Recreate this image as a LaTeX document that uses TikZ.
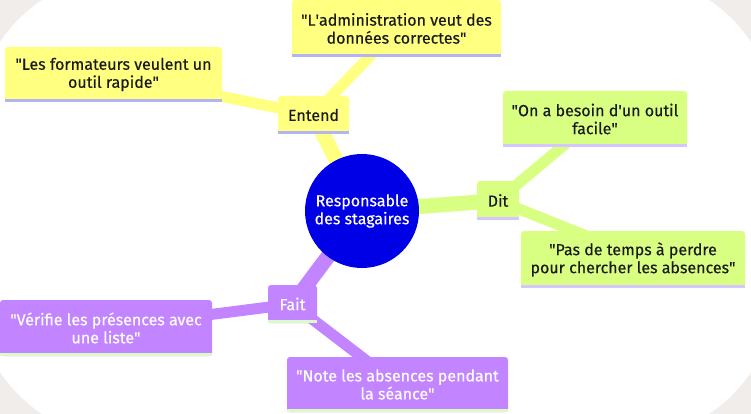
\documentclass[tikz,border=0pt]{standalone}
\usepackage{fontspec}
\setmainfont{Fira Sans}[FakeBold=0.35]
\usetikzlibrary{backgrounds}
\definecolor{bggray}{HTML}{F0EDEA}
\definecolor{myyellow}{HTML}{FFFF80}
\definecolor{mygreen}{HTML}{D9FF82}
\definecolor{mypurple}{HTML}{C285FF}
\definecolor{myblue}{HTML}{0000E6}
\definecolor{yline}{HTML}{B4B4F5}
\definecolor{gline}{HTML}{D5C6FF}
\definecolor{pline}{HTML}{DCFAC8}
\definecolor{txt}{HTML}{1A1A1A}
\tikzset{
  box/.style={rounded corners=3pt, inner sep=0pt, align=center, font=\fontsize{16}{18}\selectfont},
  ybox/.style={box, fill=myyellow, text=txt},
  gbox/.style={box, fill=mygreen, text=txt},
  pbox/.style={box, fill=mypurple, text=white},
  ul/.style={line width=3pt},
  mainline/.style={line width=15pt},
  subline/.style={line width=11pt},
}
\newcommand{\q}{\textquotedbl}
\newcommand{\ap}{\textquotesingle}
\newcommand{\underl}[2]{\draw[ul,#2] ([yshift=1.5pt]#1.south west) -- ([yshift=1.5pt]#1.south east);}
\begin{document}
\begin{tikzpicture}[x=1pt,y=-1pt]
\useasboundingbox (0,0) rectangle (751,414);
\begin{scope}[on background layer]
  \fill[bggray] (0,0) rectangle (751,414);
  \fill[white, rounded corners=150pt] (-25,-25) rectangle (776,439);
\end{scope}

\node[circle, fill=myblue, minimum size=114pt, inner sep=0pt, align=center, text=white,
      font=\fontsize{16}{18}\selectfont] (c) at (362,211) {Responsable\\des stagaires};

\node[ybox, minimum width=71pt, minimum height=38pt] (entend) at (313.5,115) {Entend};
\node[ybox, minimum width=217pt, minimum height=55pt] (b1) at (113.5,74.5) {\q Les formateurs veulent un\\outil rapide\q};
\node[ybox, minimum width=209pt, minimum height=57pt] (b2) at (396.5,28.5) {\q L\ap administration veut des\\données correctes\q};

\node[gbox, minimum width=42pt, minimum height=39pt] (dit) at (498,200.5) {Dit};
\node[gbox, minimum width=184pt, minimum height=56pt] (g1) at (595,119) {\q On a besoin d\ap un outil\\facile\q};
\node[gbox, minimum width=224pt, minimum height=57pt] (g2) at (633,259.5) {\q Pas de temps à perdre\\pour chercher les absences\q};

\node[pbox, minimum width=49pt, minimum height=38pt] (fait) at (292.5,304) {Fait};
\node[pbox, minimum width=212pt, minimum height=56pt] (p1) at (106,328) {\q Vérifie les présences avec\\une liste\q};
\node[pbox, minimum width=221pt, minimum height=55pt] (p2) at (397.5,384.5) {\q Note les absences pendant\\la séance\q};

\underl{entend}{yline}
\underl{b1}{yline}
\underl{b2}{yline}
\underl{dit}{gline}
\underl{g1}{gline}
\underl{g2}{gline}
\underl{fait}{pline}
\underl{p1}{pline}
\underl{p2}{pline}

\begin{scope}[on background layer]
  \draw[mainline, myyellow] (c.center) -- (entend.center);
  \draw[subline, myyellow] (entend.center) -- (b1.center);
  \draw[subline, myyellow] (entend.center) -- (b2.center);
  \draw[mainline, mygreen] (c.center) -- (dit.center);
  \draw[subline, mygreen] (dit.center) -- (g1.center);
  \draw[subline, mygreen] (dit.center) -- ([xshift=12pt]g2.center);
  \draw[mainline, mypurple] (c.center) -- (fait.center);
  \draw[subline, mypurple] (fait.center) -- (p1.center);
  \draw[subline, mypurple] (fait.center) -- (p2.center);
\end{scope}
\end{tikzpicture}
\end{document}
